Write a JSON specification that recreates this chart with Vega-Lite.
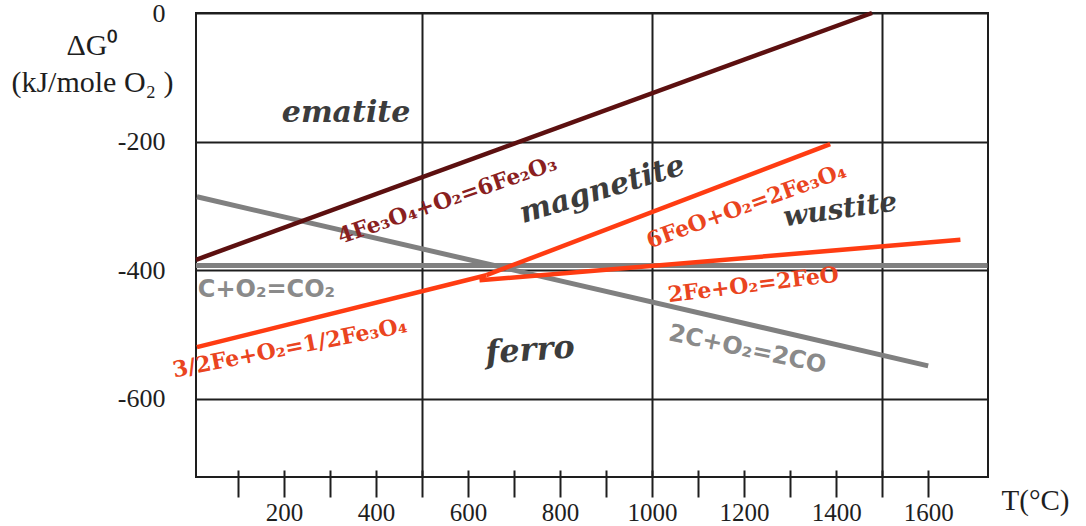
{
  "$schema": "https://vega.github.io/schema/vega-lite/v6.json",
  "width": 792,
  "height": 464,
  "autosize": {"type": "none"},
  "padding": {"left": 196, "top": 13, "right": 98, "bottom": 49},
  "background": "white",
  "config": {"view": {"stroke": "#1e1e1e", "strokeWidth": 2}},
  "datasets": {
    "lines": [
      {"s": "hem", "T": 9, "G": -384}, {"s": "hem", "T": 1478, "G": 0},
      {"s": "co2", "T": 9, "G": -393}, {"s": "co2", "T": 1729, "G": -393},
      {"s": "co", "T": 11, "G": -286}, {"s": "co", "T": 1600, "G": -549},
      {"s": "fe34", "T": 11, "G": -520}, {"s": "fe34", "T": 640, "G": -408},
      {"s": "mag", "T": 640, "G": -408}, {"s": "mag", "T": 1387, "G": -204},
      {"s": "wus", "T": 625, "G": -416}, {"s": "wus", "T": 1670, "G": -353}
    ],
    "labels": [
      {"id": "hem", "text": "4Fe₃O₄+O₂=6Fe₂O₃", "T": 555, "G": -291},
      {"id": "mag", "text": "6FeO+O₂=2Fe₃O₄", "T": 1205, "G": -300},
      {"id": "wus", "text": "2Fe+O₂=2FeO", "T": 1220, "G": -423},
      {"id": "fe34", "text": "3/2Fe+O₂=1/2Fe₃O₄", "T": 213, "G": -521},
      {"id": "co2", "text": "C+O₂=CO₂", "T": 13, "G": -431},
      {"id": "co", "text": "2C+O₂=2CO", "T": 1207, "G": -524},
      {"id": "r_ematite", "text": "ematite", "T": 335, "G": -156},
      {"id": "r_magnetite", "text": "magnetite", "T": 892, "G": -275},
      {"id": "r_wustite", "text": "wustite", "T": 1409, "G": -307},
      {"id": "r_ferro", "text": "ferro", "T": 735, "G": -525}
    ]
  },
  "encoding": {
    "x": {
      "field": "T", "type": "quantitative",
      "scale": {"domain": [9, 1730], "nice": false, "zero": false},
      "axis": {
        "values": [100, 200, 300, 400, 500, 600, 700, 800, 900, 1000, 1100, 1200, 1300, 1400, 1500, 1600],
        "format": "d",
        "labelExpr": "datum.value % 200 === 0 ? datum.label : ''",
        "grid": true, "gridColor": "#1e1e1e", "gridWidth": 2,
        "gridOpacity": {"condition": {"test": "datum.value % 500 === 0", "value": 1}, "value": 0},
        "domain": false, "offset": -7, "tickSize": 27, "tickColor": "#1e1e1e", "tickWidth": 2,
        "labelPadding": 3, "labelFont": "Liberation Serif", "labelFontSize": 25, "labelColor": "#1e1e1e",
        "labelOverlap": false, "labelFlush": false,
        "title": "T(°C)", "titleFont": "Liberation Serif", "titleFontSize": 29, "titleFontWeight": "normal",
        "titleColor": "#1e1e1e", "titleX": 839, "titleY": 30, "titleAlign": "center", "titleBaseline": "middle"
      }
    },
    "y": {
      "field": "G", "type": "quantitative",
      "scale": {"domain": [-722, 0], "nice": false, "zero": false},
      "axis": {
        "values": [0, -200, -400, -600],
        "labelExpr": "datum.value === 0 ? '0' : '-' + abs(datum.value)",
        "grid": true, "gridColor": "#1e1e1e", "gridWidth": 2,
        "domain": false, "ticks": false, "tickSize": 0,
        "labelPadding": 31, "labelFont": "Liberation Serif", "labelFontSize": 26, "labelColor": "#1e1e1e",
        "labelOverlap": false, "labelFlush": false,
        "title": ["ΔG⁰", "(kJ/mole O₂ )"], "titleFont": "Liberation Serif", "titleFontSize": 30,
        "titleFontWeight": "normal", "titleColor": "#1e1e1e", "titleAngle": 0,
        "titleX": -104, "titleY": 17, "titleAlign": "center", "titleBaseline": "top", "titleLineHeight": 37
      }
    }
  },
  "layer": [
    {
      "data": {"name": "lines"},
      "transform": [{"filter": "datum.s === 'co2' || datum.s === 'co'"}],
      "mark": {"type": "line", "color": "#808080", "strokeWidth": 5, "strokeCap": "butt"},
      "encoding": {"detail": {"field": "s"}}
    },
    {
      "data": {"name": "lines"},
      "transform": [{"filter": "datum.s === 'hem'"}],
      "mark": {"type": "line", "color": "#5c1010", "strokeWidth": 4.5, "strokeCap": "butt"},
      "encoding": {"detail": {"field": "s"}}
    },
    {
      "data": {"name": "lines"},
      "transform": [{"filter": "datum.s === 'fe34' || datum.s === 'mag' || datum.s === 'wus'"}],
      "mark": {"type": "line", "color": "#ff3c12", "strokeWidth": 4.5, "strokeCap": "butt"},
      "encoding": {"detail": {"field": "s"}}
    },
    {
      "data": {"name": "labels"},
      "transform": [{"filter": "datum.id === 'hem'"}],
      "mark": {"type": "text", "font": "DejaVu Serif", "fontWeight": "bold", "fontSize": 22, "color": "#8a1f1f", "angle": -19, "align": "center", "baseline": "middle"},
      "encoding": {"text": {"field": "text"}}
    },
    {
      "data": {"name": "labels"},
      "transform": [{"filter": "datum.id === 'mag'"}],
      "mark": {"type": "text", "font": "DejaVu Serif", "fontWeight": "bold", "fontSize": 22, "color": "#ea4420", "angle": -20, "align": "center", "baseline": "middle"},
      "encoding": {"text": {"field": "text"}}
    },
    {
      "data": {"name": "labels"},
      "transform": [{"filter": "datum.id === 'wus'"}],
      "mark": {"type": "text", "font": "DejaVu Serif", "fontWeight": "bold", "fontSize": 22, "color": "#ea4420", "angle": -7, "align": "center", "baseline": "middle"},
      "encoding": {"text": {"field": "text"}}
    },
    {
      "data": {"name": "labels"},
      "transform": [{"filter": "datum.id === 'fe34'"}],
      "mark": {"type": "text", "font": "DejaVu Serif", "fontWeight": "bold", "fontSize": 22, "color": "#ea4420", "angle": -11, "align": "center", "baseline": "middle"},
      "encoding": {"text": {"field": "text"}}
    },
    {
      "data": {"name": "labels"},
      "transform": [{"filter": "datum.id === 'co2'"}],
      "mark": {"type": "text", "font": "DejaVu Sans", "fontWeight": "bold", "fontSize": 24, "color": "#8a8a8a", "angle": 0, "align": "left", "baseline": "middle"},
      "encoding": {"text": {"field": "text"}}
    },
    {
      "data": {"name": "labels"},
      "transform": [{"filter": "datum.id === 'co'"}],
      "mark": {"type": "text", "font": "DejaVu Sans", "fontWeight": "bold", "fontSize": 24, "color": "#8a8a8a", "angle": 12, "align": "center", "baseline": "middle"},
      "encoding": {"text": {"field": "text"}}
    },
    {
      "data": {"name": "labels"},
      "transform": [{"filter": "datum.id === 'r_ematite'"}],
      "mark": {"type": "text", "font": "DejaVu Serif", "fontWeight": "bold", "fontStyle": "italic", "fontSize": 30, "color": "#3c3c3c", "angle": 0, "align": "center", "baseline": "middle"},
      "encoding": {"text": {"field": "text"}}
    },
    {
      "data": {"name": "labels"},
      "transform": [{"filter": "datum.id === 'r_magnetite'"}],
      "mark": {"type": "text", "font": "DejaVu Serif", "fontWeight": "bold", "fontStyle": "italic", "fontSize": 30, "color": "#3c3c3c", "angle": -17, "align": "center", "baseline": "middle"},
      "encoding": {"text": {"field": "text"}}
    },
    {
      "data": {"name": "labels"},
      "transform": [{"filter": "datum.id === 'r_wustite'"}],
      "mark": {"type": "text", "font": "DejaVu Serif", "fontWeight": "bold", "fontStyle": "italic", "fontSize": 28, "color": "#3c3c3c", "angle": -8, "align": "center", "baseline": "middle"},
      "encoding": {"text": {"field": "text"}}
    },
    {
      "data": {"name": "labels"},
      "transform": [{"filter": "datum.id === 'r_ferro'"}],
      "mark": {"type": "text", "font": "DejaVu Serif", "fontWeight": "bold", "fontStyle": "italic", "fontSize": 32, "color": "#3c3c3c", "angle": -4, "align": "center", "baseline": "middle"},
      "encoding": {"text": {"field": "text"}}
    }
  ]
}
